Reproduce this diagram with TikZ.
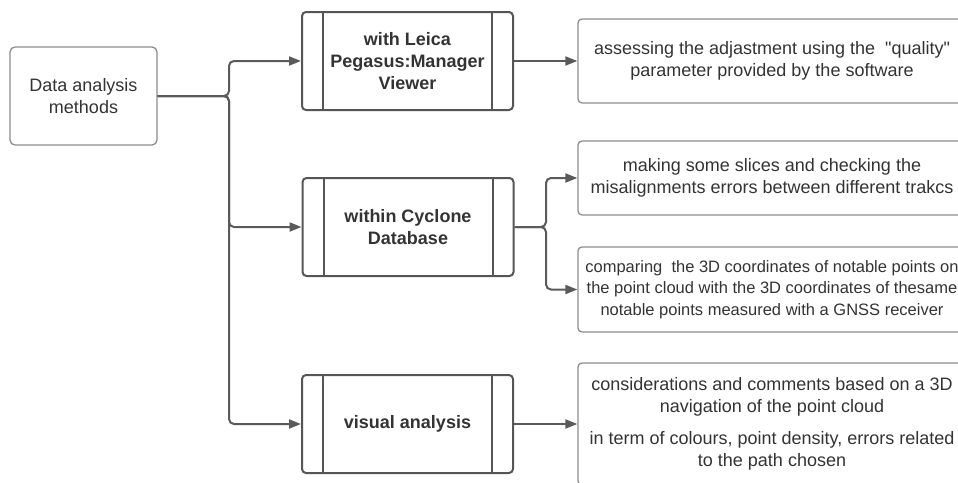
\documentclass[tikz,border=0pt]{standalone}
\usepackage{fontspec}
\newfontfamily\plainsans{Liberation Sans}
\usetikzlibrary{arrows.meta,positioning,calc}

\definecolor{frameDark}{HTML}{555555}
\definecolor{frameLight}{HTML}{8C8C8C}
\definecolor{arrowGray}{HTML}{5A5A5A}
\definecolor{textGray}{HTML}{333333}

\begin{document}
\begin{tikzpicture}[
    x=1pt, y=-1pt,
    font=\plainsans\fontsize{18}{21.5}\selectfont,
    topic/.style={
        rectangle, rounded corners=5pt, draw=frameLight, line width=1.3pt,
        minimum width=147pt, minimum height=98pt, align=center, text=textGray
    },
    method/.style={
        rectangle, rounded corners=4pt, draw=frameDark, line width=2pt,
        minimum width=211pt, minimum height=98pt, align=center, text=textGray,
        font=\plainsans\fontsize{18}{22}\selectfont\bfseries,
        path picture={
            \draw[line width=2pt, draw=frameDark]
                ([xshift=21pt]path picture bounding box.north west) -- ([xshift=21pt]path picture bounding box.south west)
                ([xshift=-21pt]path picture bounding box.north east) -- ([xshift=-21pt]path picture bounding box.south east);
        }
    },
    result/.style={
        rectangle, rounded corners=4pt, draw=frameLight, line width=1.3pt,
        minimum width=388pt, align=center, text=textGray
    },
    flowArrow/.style={
        -{Triangle[length=12pt, width=9pt]}, line width=2pt, draw=arrowGray, rounded corners=5pt
    }
]

\useasboundingbox (0,0) rectangle (958,482);
\clip (0,0) rectangle (958,482);

% Root topic
\node[topic] (data) at (83.5,96) {Data analysis\\methods};

% Methods
\node[method] (leica) at (407.5,61) {with Leica\\Pegasus:Manager\\Viewer};
\node[method] (cyclone) at (408,227) {within Cyclone\\Database};
\node[method] (visual) at (407.5,424) {visual analysis};

% Results (cut at the right edge)
\node[result, minimum height=84pt] (quality) at (772,61) {assessing the adjastment using the\ \ "quality"\\parameter provided by the software};
\node[result, minimum height=74pt] (slices) at (772,178) {making some slices and checking the\\misalignments errors between different trakcs};
\node[result, minimum height=85pt, font=\plainsans\fontsize{16.5}{21.5}\selectfont] (gnss) at (772,289.5) {comparing\ \ the 3D coordinates of notable points on\\the point cloud with the 3D coordinates of thesame\\notable points measured with a GNSS receiver};
\node[result, minimum height=122pt] (navig) at (772,424) {considerations and comments based on a 3D\\navigation of the point cloud\\[11pt]in term of colours, point density, errors related\\to the path chosen};

% Branch points
\coordinate (trunkA) at (229,96);
\coordinate (trunkB) at (546,227);

% Root to methods
\draw[flowArrow] (data.east) -- (trunkA) |- (leica.west);
\draw[flowArrow] (data.east) -- (trunkA) |- (cyclone.west);
\draw[flowArrow] (data.east) -- (trunkA) |- (visual.west);

% Methods to results
\draw[flowArrow] (leica.east) -- (quality.west);
\draw[flowArrow] (cyclone.east) -- (trunkB) |- (slices.west);
\draw[flowArrow] (cyclone.east) -- (trunkB) |- (gnss.west);
\draw[flowArrow] (visual.east) -- (navig.west);

\end{tikzpicture}
\end{document}
